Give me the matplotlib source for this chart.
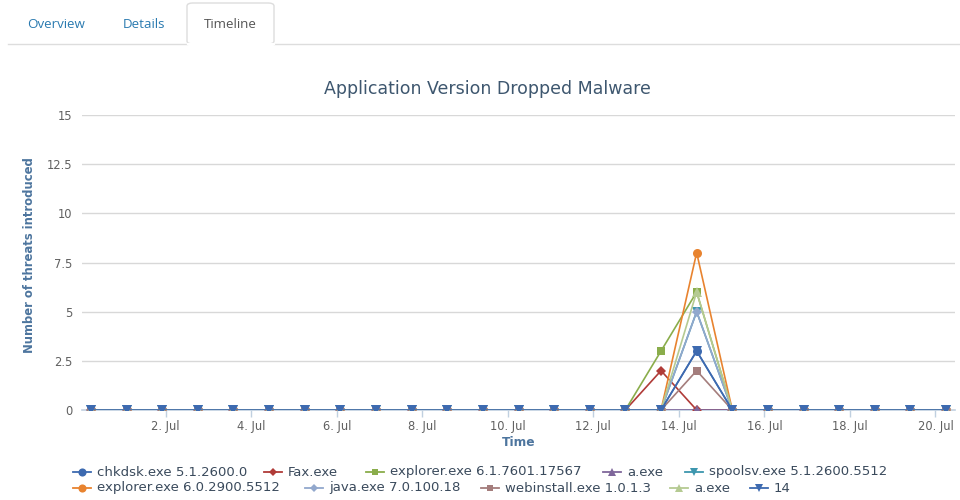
import numpy as np
import pandas as pd
import matplotlib
matplotlib.use("Agg")
import matplotlib.pyplot as plt
import matplotlib.dates as mdates
from matplotlib.lines import Line2D
from matplotlib.patches import FancyBboxPatch
from matplotlib.ticker import FuncFormatter

plt.rcParams['font.family'] = ['DejaVu Sans']

# ---- data -------------------------------------------------------------
times = pd.date_range("2015-06-30 06:00", periods=25, freq="20h")

series_names = [
    "chkdsk.exe 5.1.2600.0", "Fax.exe", "explorer.exe 6.1.7601.17567",
    "a.exe", "spoolsv.exe 5.1.2600.5512", "explorer.exe 6.0.2900.5512",
    "java.exe 7.0.100.18", "webinstall.exe 1.0.1.3", "a.exe", "14",
]

def zeros_with(**peaks):
    v = [0] * 25
    for k, val in peaks.items():
        v[int(k[1:])] = val
    return v

chkdsk = zeros_with(i17=3)
fax = zeros_with(i16=2)
explorer_61 = zeros_with(i16=3, i17=6)
a_exe_1 = zeros_with()
spoolsv = zeros_with(i17=5)
explorer_60 = zeros_with(i17=8)
java = zeros_with(i17=5)
webinstall = zeros_with(i17=2)
a_exe_2 = zeros_with(i17=6)
s14 = zeros_with(i17=3)

series_values = [chkdsk, fax, explorer_61, a_exe_1, spoolsv,
                 explorer_60, java, webinstall, a_exe_2, s14]

colors = ["#3d6ab0", "#b03b38", "#8aad4b", "#7f679b", "#3d96ae",
          "#e8832f", "#92a8cd", "#a47d7c", "#b5ca92", "#3d6ab0"]
markers = ["o", "D", "s", "^", "v", "o", "D", "s", "^", "v"]
msizes = [6.5, 5, 5.5, 6.5, 6.5, 6.5, 5, 5.5, 6.5, 6.5]

y_ticks = [0, 2.5, 5, 7.5, 10, 12.5, 15]
y_tick_labels = ["0", "2.5", "5", "7.5", "10", "12.5", "15"]

# ---- figure -----------------------------------------------------------
W, H = 960, 500
fig = plt.figure(figsize=(W / 100, H / 100), dpi=100)
fig.patch.set_facecolor("white")

def fx(px):
    return px / W

def fy(py):
    return 1 - py / H

ax = fig.add_axes([fx(82), fy(410), fx(955) - fx(82), fy(115) - fy(410)])

for name, vals, c, m, ms in zip(series_names, series_values, colors, markers, msizes):
    ax.plot(times, vals, color=c, lw=1.2, marker=m, markersize=ms,
            markeredgewidth=0, clip_on=True, label=name)

pad = pd.Timedelta(hours=5)
ax.set_xlim(times[0] - pad, times[-1] + pad)
ax.set_ylim(0, 15)

ax.xaxis.set_major_locator(mdates.DayLocator(bymonthday=list(range(2, 21, 2))))
ax.xaxis.set_major_formatter(FuncFormatter(
    lambda v, p: f"{mdates.num2date(v).day}. {mdates.num2date(v).strftime('%b')}"))

ax.set_yticks(y_ticks)
ax.set_yticklabels(y_tick_labels)
ax.yaxis.grid(True, color="#d8d8d8", lw=1)
ax.set_axisbelow(True)

for side in ["top", "right", "left"]:
    ax.spines[side].set_visible(False)
ax.spines["bottom"].set_color("#c0d0e0")
ax.spines["bottom"].set_linewidth(1.2)
ax.spines["bottom"].set_zorder(0.5)

ax.tick_params(axis="x", colors="#c0d0e0", length=5, width=1, direction="out",
               labelcolor="#606060", labelsize=8.3, pad=2)
ax.tick_params(axis="y", length=0, labelcolor="#606060", labelsize=8.3, pad=7)

ax.set_xlabel("Time", fontsize=8.8, fontweight="bold", color="#4d759e", labelpad=2)
ax.set_ylabel("Number of threats introduced", fontsize=8.4, fontweight="bold",
              color="#4d759e", va="center")
ax.yaxis.set_label_coords((30 - 82) / 873, (410 - 255) / 295)

fig.text(fx(487.5), fy(89), "Application Version Dropped Malware", ha="center",
         va="center", fontsize=12.5, color="#3e576f")

# ---- legend -----------------------------------------------------------
legend_rows = [
    [(0, 73), (1, 264), (2, 366), (3, 603), (4, 685)],
    [(5, 73), (6, 305), (7, 481), (8, 670), (9, 750)],
]
row_y = [472, 488]
for row, yy in zip(legend_rows, row_y):
    for idx, x0 in row:
        fig.add_artist(Line2D([fx(x0), fx(x0 + 18)], [fy(yy), fy(yy)],
                              color=colors[idx], lw=1.3,
                              transform=fig.transFigure))
        fig.add_artist(Line2D([fx(x0 + 9)], [fy(yy)], color=colors[idx],
                              marker=markers[idx], markersize=msizes[idx] * 0.9,
                              markeredgewidth=0, transform=fig.transFigure))
        fig.text(fx(x0 + 24), fy(yy), series_names[idx], ha="left", va="center",
                 fontsize=9.5, color="#3a4a5c")

# ---- tabs -------------------------------------------------------------
tab_font = ["Open Sans", "DejaVu Sans"]
fig.add_artist(Line2D([fx(8), fx(187)], [fy(44), fy(44)], color="#dddddd",
                      lw=1, transform=fig.transFigure))
fig.add_artist(Line2D([fx(274), fx(960)], [fy(44), fy(44)], color="#dddddd",
                      lw=1, transform=fig.transFigure))
fig.add_artist(FancyBboxPatch((fx(187), fy(44)), fx(274) - fx(187),
                              fy(3) - fy(44),
                              boxstyle="round,pad=0,rounding_size=0.006",
                              fc="white", ec="#dddddd", lw=1,
                              transform=fig.transFigure))
fig.add_artist(Line2D([fx(187.5), fx(273.5)], [fy(44), fy(44)], color="white",
                      lw=1.6, transform=fig.transFigure))
fig.text(fx(56), fy(24), "Overview", ha="center", va="center", fontsize=9.6,
         color="#2a7ab0", family=tab_font)
fig.text(fx(144), fy(24), "Details", ha="center", va="center", fontsize=9.6,
         color="#2a7ab0", family=tab_font)
fig.text(fx(230.5), fy(24), "Timeline", ha="center", va="center", fontsize=9.6,
         color="#555555", family=tab_font)

fig.savefig("out.png", dpi=100, facecolor="white")
